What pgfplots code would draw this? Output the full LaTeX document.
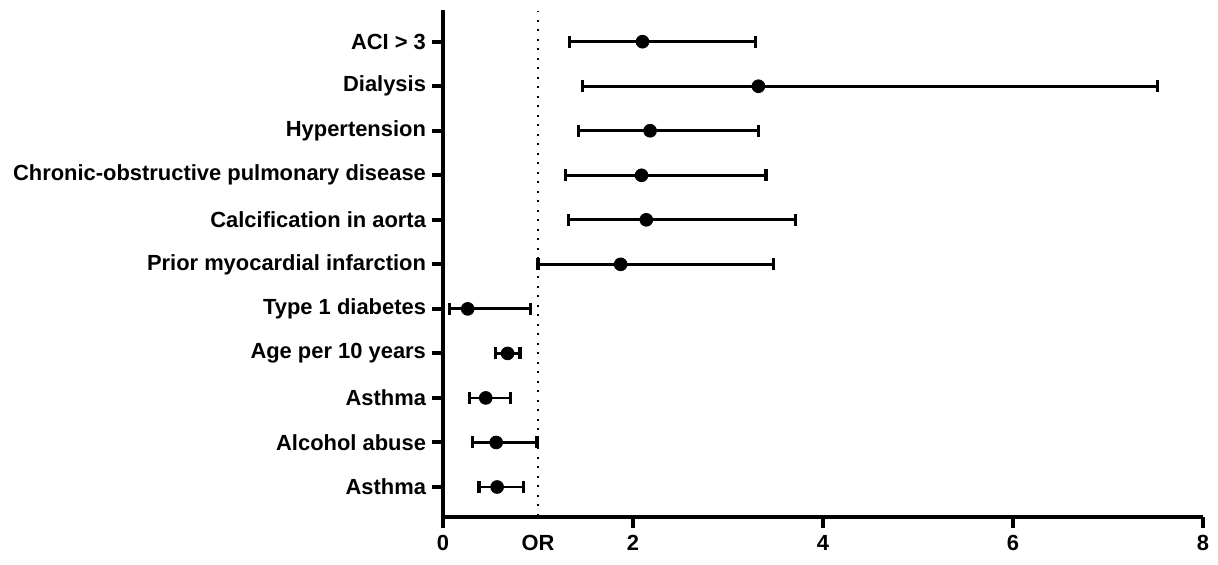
\documentclass[border=0pt]{standalone}
\usepackage{pgfplots}
\pgfplotsset{compat=1.18}
\usepackage{pgfplotstable}
\usepackage{fontspec}
\setmainfont{Liberation Sans}
\pgfplotstableread{
y x lo hi
11 2.10 1.33 3.29
10 3.32 1.47 7.52
9 2.18 1.43 3.32
8 2.09 1.29 3.40
7 2.14 1.32 3.71
6 1.87 1.00 3.48
5 0.26 0.07 0.92
4 0.68 0.55 0.81
3 0.45 0.28 0.71
2 0.56 0.31 0.99
1 0.57 0.38 0.85
}\data
\begin{document}
\begin{tikzpicture}
\path[use as bounding box] (-221.5bp,-24bp) rectangle (387.5bp,258.5bp);
\begin{axis}[at={(0,0)}, anchor=south west, scale only axis, width=380bp, height=253.5bp,
 xmin=0, xmax=8, ymin=0.326, ymax=11.712,
 axis x line=bottom, axis y line=left, axis line style={-, line width=2bp},
 xtick={0,2,4,6,8}, ytick={1,...,11},
 yticklabels={Asthma, Alcohol abuse, Asthma, Age per 10 years, Type 1 diabetes, Prior myocardial infarction, Calcification in aorta, Chronic-obstructive pulmonary disease, Hypertension, Dialysis, ACI > 3},
 tick align=outside, major tick length=5.5bp, tick style={line width=2bp, black},
 tick label style={font=\bfseries\fontsize{11}{13}\selectfont},
 yticklabel style={xshift=0.5bp},
 /pgf/number format/assume math mode=true,
 extra x ticks={1}, extra x tick labels={OR}, extra x tick style={grid=none, major tick style={draw=none}},
 clip=false,
]
\addplot[black, line width=1.2bp, dash pattern=on 1.1bp off 3.65bp] coordinates {(1,0.35) (1,11.7)};
\addplot[only marks, mark=*, mark size=3.2bp, black, error bars/.cd, x dir=both, x explicit, error bar style={line width=1.4bp}, error mark options={rotate=90, mark size=3bp, line width=1.6bp}] table[x=x, y=y, x error plus expr=\thisrow{hi}-\thisrow{x}, x error minus expr=\thisrow{x}-\thisrow{lo}] {\data};
\end{axis}
\end{tikzpicture}
\end{document}
